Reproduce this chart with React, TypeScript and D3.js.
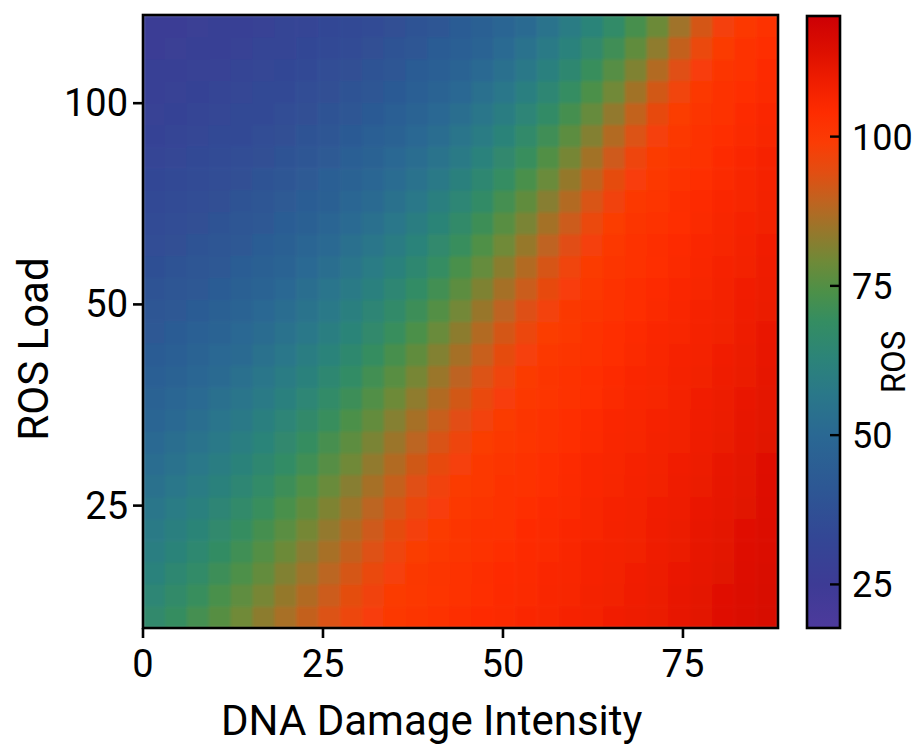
import React from "react";
import * as d3 from "d3";

// DNA damage intensity at the centre of each heatmap column
const damageLevels = [
  1.52, 4.56, 7.6, 10.65, 13.69, 16.73, 19.77, 22.81, 25.85, 28.9, 31.94, 34.98, 38.02, 41.06, 44.1,
  47.14, 50.19, 53.23, 56.27, 59.31, 62.35, 65.4, 68.44, 71.48, 74.52, 77.56, 80.6, 83.64, 86.68,
];

// ROS load at the centre of each heatmap row (bottom to top, log spaced)
const loadLevels = [
  17.0, 18.4, 19.8, 21.4, 23.0, 24.8, 26.8, 28.9, 31.1, 33.6, 36.2, 39.0, 42.1, 45.4, 49.0, 52.8,
  56.9, 61.4, 66.2, 71.4, 77.0, 83.0, 89.5, 96.5, 104.1, 112.2, 121.0, 130.5,
];

// ROS per cell: one row per load level (bottom to top), one value per damage level
const rosGrid = [
  [66.3, 69.2, 72.3, 75.6, 79.1, 82.8, 86.3, 89.7, 93.1, 96.2, 98.4, 100.0, 101.0, 102.1, 103.0, 103.9, 104.8, 105.5, 106.2, 106.9, 107.7, 108.6, 109.5, 110.5, 111.6, 112.6, 113.8, 115.1, 116.3],
  [64.2, 67.0, 70.0, 73.2, 76.6, 80.2, 83.9, 87.4, 91.0, 94.3, 97.1, 99.3, 100.4, 101.5, 102.6, 103.4, 104.3, 105.2, 105.9, 106.6, 107.4, 108.3, 109.1, 110.1, 111.2, 112.3, 113.5, 114.7, 115.9],
  [62.1, 64.8, 67.7, 70.8, 74.1, 77.6, 81.4, 85.0, 88.6, 92.2, 95.5, 98.0, 99.8, 100.9, 102.0, 103.0, 103.9, 104.8, 105.5, 106.3, 107.0, 107.9, 108.8, 109.7, 110.8, 111.9, 113.1, 114.3, 115.6],
  [60.0, 62.6, 65.4, 68.4, 71.6, 75.0, 78.7, 82.5, 86.2, 89.9, 93.4, 96.6, 98.8, 100.3, 101.4, 102.5, 103.4, 104.3, 105.2, 105.9, 106.7, 107.5, 108.4, 109.3, 110.4, 111.5, 112.6, 113.9, 115.2],
  [58.0, 60.5, 63.2, 66.1, 69.2, 72.5, 76.0, 79.8, 83.7, 87.4, 91.2, 94.6, 97.5, 99.6, 100.8, 101.9, 102.9, 103.9, 104.8, 105.6, 106.3, 107.1, 108.0, 109.0, 110.0, 111.1, 112.2, 113.5, 114.8],
  [56.0, 58.5, 61.0, 63.8, 66.8, 70.0, 73.4, 77.1, 81.0, 84.9, 88.7, 92.5, 95.9, 98.4, 100.1, 101.2, 102.4, 103.4, 104.3, 105.2, 106.0, 106.8, 107.7, 108.6, 109.6, 110.7, 111.9, 113.1, 114.4],
  [54.1, 56.4, 58.9, 61.6, 64.5, 67.5, 70.8, 74.4, 78.2, 82.2, 86.1, 90.0, 93.7, 97.0, 99.3, 100.6, 101.8, 102.9, 103.8, 104.8, 105.6, 106.4, 107.2, 108.2, 109.2, 110.3, 111.5, 112.7, 114.0],
  [52.2, 54.4, 56.8, 59.4, 62.2, 65.1, 68.3, 71.7, 75.4, 79.3, 83.5, 87.4, 91.4, 95.1, 97.9, 99.9, 101.1, 102.3, 103.3, 104.3, 105.3, 106.1, 106.8, 107.8, 108.8, 109.9, 111.1, 112.2, 113.6],
  [50.4, 52.5, 54.8, 57.3, 59.9, 62.8, 65.8, 69.1, 72.7, 76.5, 80.6, 84.7, 88.8, 92.8, 96.4, 98.9, 100.4, 101.6, 102.8, 103.8, 104.8, 105.7, 106.5, 107.4, 108.4, 109.4, 110.6, 111.8, 113.1],
  [48.6, 50.6, 52.8, 55.2, 57.7, 60.5, 63.4, 66.6, 70.0, 73.7, 77.6, 81.9, 86.1, 90.2, 94.1, 97.4, 99.7, 101.0, 102.2, 103.3, 104.3, 105.3, 106.1, 106.9, 108.0, 109.0, 110.2, 111.4, 112.7],
  [46.9, 48.8, 50.9, 53.2, 55.6, 58.2, 61.0, 64.1, 67.4, 70.9, 74.7, 78.9, 83.2, 87.4, 91.7, 95.5, 98.4, 100.2, 101.5, 102.7, 103.8, 104.9, 105.7, 106.6, 107.5, 108.6, 109.7, 111.0, 112.2],
  [45.2, 47.0, 49.0, 51.2, 53.5, 56.0, 58.7, 61.6, 64.8, 68.2, 71.9, 75.9, 80.1, 84.6, 88.9, 93.1, 96.8, 99.4, 100.8, 102.1, 103.2, 104.3, 105.3, 106.2, 107.1, 108.2, 109.2, 110.5, 111.8],
  [43.6, 45.3, 47.2, 49.3, 51.5, 53.9, 56.5, 59.3, 62.3, 65.6, 69.1, 72.9, 77.0, 81.5, 86.0, 90.4, 94.6, 97.9, 100.0, 101.4, 102.7, 103.8, 104.9, 105.8, 106.7, 107.7, 108.8, 110.0, 111.3],
  [42.0, 43.7, 45.5, 47.4, 49.5, 51.8, 54.3, 56.9, 59.8, 63.0, 66.4, 70.0, 74.0, 78.3, 82.9, 87.5, 92.0, 96.1, 98.9, 100.6, 101.9, 103.2, 104.3, 105.4, 106.3, 107.2, 108.4, 109.5, 110.9],
  [40.5, 42.1, 43.8, 45.6, 47.6, 49.8, 52.1, 54.7, 57.4, 60.4, 63.7, 67.2, 71.0, 75.1, 79.6, 84.4, 89.0, 93.5, 97.3, 99.8, 101.2, 102.6, 103.7, 104.9, 105.8, 106.8, 107.9, 109.1, 110.4],
  [39.0, 40.5, 42.1, 43.9, 45.8, 47.8, 50.0, 52.5, 55.1, 57.9, 61.0, 64.4, 68.1, 72.1, 76.4, 81.1, 85.9, 90.6, 95.1, 98.4, 100.4, 101.8, 103.1, 104.3, 105.4, 106.4, 107.4, 108.6, 109.8],
  [37.7, 39.1, 40.6, 42.2, 44.0, 45.9, 48.0, 50.3, 52.8, 55.5, 58.5, 61.7, 65.2, 69.0, 73.2, 77.7, 82.6, 87.5, 92.3, 96.7, 99.5, 101.0, 102.5, 103.7, 104.9, 105.9, 106.9, 108.1, 109.3],
  [36.3, 37.6, 39.0, 40.6, 42.3, 44.1, 46.1, 48.2, 50.6, 53.2, 56.0, 59.1, 62.4, 66.1, 70.0, 74.4, 79.1, 84.1, 89.1, 93.9, 97.8, 100.2, 101.7, 103.1, 104.3, 105.5, 106.5, 107.6, 108.8],
  [35.1, 36.3, 37.6, 39.0, 40.6, 42.3, 44.2, 46.2, 48.5, 50.9, 53.6, 56.5, 59.7, 63.2, 67.0, 71.1, 75.7, 80.6, 85.8, 90.9, 95.7, 99.0, 100.8, 102.4, 103.7, 105.0, 106.0, 107.0, 108.3],
  [33.9, 35.0, 36.2, 37.6, 39.0, 40.6, 42.4, 44.3, 46.4, 48.7, 51.3, 54.0, 57.0, 60.4, 64.0, 67.9, 72.3, 77.0, 82.2, 87.5, 92.7, 97.1, 99.9, 101.5, 103.0, 104.3, 105.5, 106.6, 107.8],
  [32.7, 33.8, 34.9, 36.2, 37.5, 39.0, 40.7, 42.5, 44.5, 46.6, 49.0, 51.6, 54.5, 57.6, 61.1, 64.8, 69.0, 73.5, 78.5, 83.9, 89.3, 94.5, 98.4, 100.6, 102.2, 103.6, 105.0, 106.1, 107.2],
  [31.7, 32.6, 33.7, 34.8, 36.1, 37.5, 39.0, 40.7, 42.5, 44.6, 46.8, 49.3, 52.0, 54.9, 58.2, 61.8, 65.7, 70.0, 74.8, 80.0, 85.6, 91.2, 96.4, 99.6, 101.3, 102.9, 104.3, 105.6, 106.7],
  [30.6, 31.5, 32.5, 33.6, 34.7, 36.0, 37.4, 39.0, 40.7, 42.6, 44.7, 47.0, 49.6, 52.4, 55.5, 58.9, 62.6, 66.7, 71.2, 76.2, 81.7, 87.5, 93.2, 97.7, 100.3, 102.1, 103.6, 105.0, 106.2],
  [29.7, 30.5, 31.4, 32.4, 33.4, 34.6, 35.9, 37.4, 39.0, 40.8, 42.7, 44.9, 47.3, 49.9, 52.8, 56.0, 59.5, 63.4, 67.8, 72.5, 77.8, 83.6, 89.5, 95.1, 99.1, 101.1, 102.8, 104.3, 105.6],
  [28.8, 29.5, 30.4, 31.2, 32.2, 33.3, 34.5, 35.9, 37.3, 39.0, 40.8, 42.8, 45.0, 47.5, 50.2, 53.2, 56.6, 60.3, 64.3, 68.9, 73.9, 79.4, 85.5, 91.6, 96.9, 100.1, 101.9, 103.5, 105.1],
  [28.0, 28.7, 29.4, 30.2, 31.1, 32.1, 33.2, 34.4, 35.8, 37.3, 39.0, 40.8, 42.9, 45.2, 47.8, 50.6, 53.7, 57.2, 61.0, 65.3, 70.1, 75.4, 81.2, 87.5, 93.7, 98.4, 100.9, 102.7, 104.3],
  [27.2, 27.8, 28.5, 29.2, 30.0, 30.9, 31.9, 33.1, 34.3, 35.7, 37.3, 39.0, 40.9, 43.0, 45.4, 48.0, 51.0, 54.2, 57.9, 61.9, 66.4, 71.4, 77.0, 83.2, 89.7, 95.8, 99.7, 101.7, 103.5],
  [26.5, 27.1, 27.7, 28.3, 29.1, 29.9, 30.8, 31.8, 32.9, 34.2, 35.6, 37.2, 39.0, 40.9, 43.1, 45.6, 48.3, 51.4, 54.8, 58.6, 62.8, 67.6, 72.8, 78.7, 85.3, 92.1, 97.6, 100.6, 102.6],
];

const damageTicks = [0, 25, 50, 75];
const loadTicks = [25, 50, 100];
const rosTicks = [25, 50, 75, 100];

// Colour ramp: ROS value -> colour
const rosStops = [17.7, 25, 33, 41, 50, 57, 63, 69, 74, 79, 84, 89, 94, 99, 104, 109, 114, 120.2];
const rosColors = [
  "#4d3a9c", "#3d3b95", "#334795", "#2d5794", "#2a6893", "#2a7889", "#2c8478", "#348d62",
  "#4c9048", "#6e8a38", "#95782c", "#be6420", "#e24e12", "#fb3c05", "#fe2c00", "#f01e00",
  "#de1000", "#cc0005",
];

const W = 917;
const H = 747;
const plot = { left: 143, right: 778, top: 15, bottom: 628 };
const bar = { left: 807, right: 840, top: 16, bottom: 628 };
const damageDomain: [number, number] = [0, 88.2];
const loadDomain: [number, number] = [16.4, 135.5];
const rosDomain: [number, number] = [17.7, 120.2];
const FONT = "Roboto, 'Noto Sans', sans-serif";

export default function App() {
  const x = d3.scaleLinear().domain(damageDomain).range([plot.left, plot.right]);
  const y = d3.scaleLog().domain(loadDomain).range([plot.bottom, plot.top]);
  const color = d3
    .scaleLinear<string>()
    .domain(rosStops)
    .range(rosColors)
    .interpolate(d3.interpolateRgb)
    .clamp(true);
  const cb = d3.scaleLinear().domain(rosDomain).range([bar.bottom, bar.top]);

  // Cell borders halfway between neighbouring centres (geometric for the log axis)
  const xEdges = [damageDomain[0]];
  for (let i = 1; i < damageLevels.length; i++) xEdges.push((damageLevels[i - 1] + damageLevels[i]) / 2);
  xEdges.push(damageDomain[1]);
  const yEdges = [loadDomain[0]];
  for (let j = 1; j < loadLevels.length; j++) yEdges.push(Math.sqrt(loadLevels[j - 1] * loadLevels[j]));
  yEdges.push(loadDomain[1]);

  const cells: React.ReactElement[] = [];
  rosGrid.forEach((row, j) => {
    row.forEach((v, i) => {
      const x0 = x(xEdges[i]);
      const x1 = x(xEdges[i + 1]);
      const y0 = y(yEdges[j + 1]);
      const y1 = y(yEdges[j]);
      cells.push(
        <rect
          key={`${j}-${i}`}
          x={x0}
          y={y0}
          width={x1 - x0 + 0.6}
          height={y1 - y0 + 0.6}
          fill={color(v)}
        />
      );
    });
  });

  const gradStops = rosStops.map((s, k) => (
    <stop
      key={k}
      offset={`${((s - rosDomain[0]) / (rosDomain[1] - rosDomain[0])) * 100}%`}
      stopColor={rosColors[k]}
    />
  ));

  return (
    <svg
      width={W}
      height={H}
      viewBox={`0 0 ${W} ${H}`}
      style={{ position: "absolute", left: 0, top: 0, display: "block", background: "#fff" }}
      fontFamily={FONT}
    >
      <defs>
        <clipPath id="plotClip">
          <rect x={plot.left} y={plot.top} width={plot.right - plot.left} height={plot.bottom - plot.top} />
        </clipPath>
        <filter id="soften" x={plot.left} y={plot.top} width={plot.right - plot.left} height={plot.bottom - plot.top} filterUnits="userSpaceOnUse">
          <feGaussianBlur stdDeviation="1.8" edgeMode="duplicate" />
        </filter>
        <linearGradient id="rosRamp" x1="0" y1="1" x2="0" y2="0">
          {gradStops}
        </linearGradient>
      </defs>

      <rect width={W} height={H} fill="#fff" />

      {/* heatmap */}
      <g clipPath="url(#plotClip)">
        <g filter="url(#soften)">{cells}</g>
      </g>
      <rect
        x={plot.left}
        y={plot.top}
        width={plot.right - plot.left}
        height={plot.bottom - plot.top}
        fill="none"
        stroke="#000"
        strokeWidth={2.6}
      />

      {/* x axis */}
      {damageTicks.map((t) => (
        <g key={`xt${t}`}>
          <line x1={x(t)} x2={x(t)} y1={plot.bottom} y2={plot.bottom + 10} stroke="#000" strokeWidth={2.6} />
          <text x={x(t)} y={677} textAnchor="middle" fontSize={38} fill="#000">
            {t}
          </text>
        </g>
      ))}
      <text x={221} y={735} fontSize={42} fill="#000">
        DNA Damage Intensity
      </text>

      {/* y axis */}
      {loadTicks.map((t) => (
        <g key={`yt${t}`}>
          <line x1={plot.left - 10} x2={plot.left} y1={y(t)} y2={y(t)} stroke="#000" strokeWidth={2.6} />
          <text x={128} y={y(t) + 13} textAnchor="end" fontSize={38} fill="#000">
            {t}
          </text>
        </g>
      ))}
      <text transform="translate(48,349) rotate(-90)" textAnchor="middle" fontSize={42} fill="#000">
        ROS Load
      </text>

      {/* colour bar */}
      <rect
        x={bar.left}
        y={bar.top}
        width={bar.right - bar.left}
        height={bar.bottom - bar.top}
        fill="url(#rosRamp)"
        stroke="#000"
        strokeWidth={2.6}
      />
      {rosTicks.map((t) => (
        <g key={`ct${t}`}>
          <line x1={bar.right - 10} x2={bar.right} y1={cb(t)} y2={cb(t)} stroke="#000" strokeWidth={2.4} />
          <text x={852} y={cb(t) + 13} fontSize={36} fill="#000">
            {t}
          </text>
        </g>
      ))}
      <text transform="translate(905,362) rotate(-90)" textAnchor="middle" fontSize={33} fill="#000">
        ROS
      </text>
    </svg>
  );
}
